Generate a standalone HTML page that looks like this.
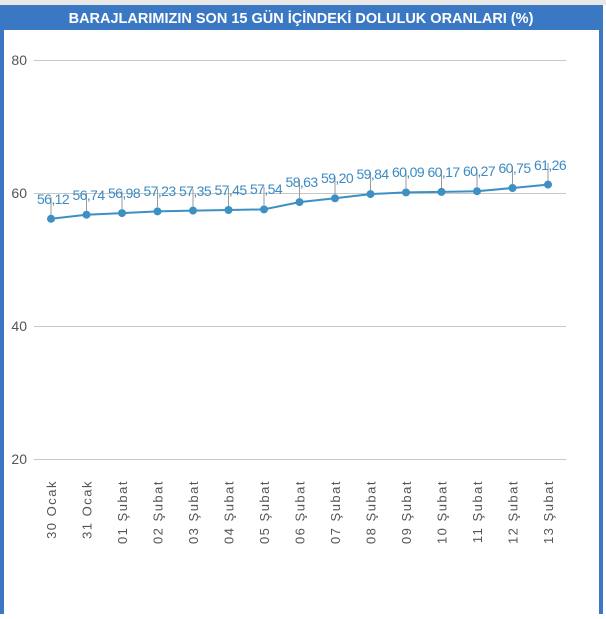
<!DOCTYPE html>
<html><head><meta charset="utf-8"><style>
body{margin:0;background:#fff;width:606px;height:614px;overflow:hidden;font-family:"Liberation Sans",sans-serif}
</style></head><body>
<svg width="606" height="614" xmlns="http://www.w3.org/2000/svg" font-family="Liberation Sans, sans-serif">
<rect x="0" y="0" width="606" height="5" fill="#e8e8e8"/>
<rect x="0" y="5" width="603" height="609" fill="#3b78c3"/>
<rect x="4" y="30" width="595" height="584" fill="#fff"/>
<text x="301" y="23" text-anchor="middle" fill="#fff" font-weight="bold" font-size="14.5">BARAJLARIMIZIN SON 15 GÜN İÇİNDEKİ DOLULUK ORANLARI (%)</text>
<g stroke="#c8c8c8" stroke-width="1">
<line x1="34" y1="60.5" x2="566" y2="60.5"/><line x1="34" y1="193.5" x2="566" y2="193.5"/><line x1="34" y1="326.5" x2="566" y2="326.5"/><line x1="34" y1="459.5" x2="566" y2="459.5"/>
</g>
<g fill="#555" font-size="14" text-anchor="end">
<text x="27" y="65">80</text><text x="27" y="198">60</text><text x="27" y="331">40</text><text x="27" y="464">20</text>
</g>
<g stroke="#999" stroke-width="1">
<line x1="51" y1="215" x2="51" y2="197"/>
<line x1="86.5" y1="211" x2="86.5" y2="193"/>
<line x1="122" y1="209" x2="122" y2="191"/>
<line x1="157.5" y1="207" x2="157.5" y2="189"/>
<line x1="193" y1="207" x2="193" y2="189"/>
<line x1="228.5" y1="206" x2="228.5" y2="188"/>
<line x1="264" y1="205" x2="264" y2="187"/>
<line x1="299.5" y1="198" x2="299.5" y2="180"/>
<line x1="335" y1="194" x2="335" y2="176"/>
<line x1="370.5" y1="190" x2="370.5" y2="172"/>
<line x1="406" y1="188" x2="406" y2="170"/>
<line x1="441.5" y1="188" x2="441.5" y2="170"/>
<line x1="477" y1="187" x2="477" y2="169"/>
<line x1="512.5" y1="184" x2="512.5" y2="166"/>
<line x1="548" y1="181" x2="548" y2="163"/>
</g>
<polyline points="51,218.8 86.5,214.7 122,213.1 157.5,211.4 193,210.6 228.5,210 264,209.4 299.5,202.1 335,198.3 370.5,194.1 406,192.4 441.5,191.9 477,191.2 512.5,188 548,184.6" fill="none" stroke="#3d8fc4" stroke-width="2"/>
<g fill="#3d8fc4">
<circle cx="51" cy="218.8" r="4"/><circle cx="86.5" cy="214.7" r="4"/><circle cx="122" cy="213.1" r="4"/><circle cx="157.5" cy="211.4" r="4"/><circle cx="193" cy="210.6" r="4"/><circle cx="228.5" cy="210" r="4"/><circle cx="264" cy="209.4" r="4"/><circle cx="299.5" cy="202.1" r="4"/><circle cx="335" cy="198.3" r="4"/><circle cx="370.5" cy="194.1" r="4"/><circle cx="406" cy="192.4" r="4"/><circle cx="441.5" cy="191.9" r="4"/><circle cx="477" cy="191.2" r="4"/><circle cx="512.5" cy="188" r="4"/><circle cx="548" cy="184.6" r="4"/>
</g>
<g fill="#3d8bc2" font-size="14" letter-spacing="-0.6" text-anchor="middle">
<text x="53" y="204">56,12</text>
<text x="88.5" y="200">56,74</text>
<text x="124" y="198">56,98</text>
<text x="159.5" y="196">57,23</text>
<text x="195" y="196">57,35</text>
<text x="230.5" y="195">57,45</text>
<text x="266" y="194">57,54</text>
<text x="301.5" y="187">58,63</text>
<text x="337" y="183">59,20</text>
<text x="372.5" y="179">59,84</text>
<text x="408" y="177">60,09</text>
<text x="443.5" y="177">60,17</text>
<text x="479" y="176">60,27</text>
<text x="514.5" y="173">60,75</text>
<text x="550" y="170">61,26</text>
</g>
<g fill="#555" font-size="13" letter-spacing="1.5" text-anchor="end">
<text transform="translate(56,480) rotate(-90)">30 Ocak</text>
<text transform="translate(91.5,480) rotate(-90)">31 Ocak</text>
<text transform="translate(127,480) rotate(-90)">01 Şubat</text>
<text transform="translate(162.5,480) rotate(-90)">02 Şubat</text>
<text transform="translate(198,480) rotate(-90)">03 Şubat</text>
<text transform="translate(233.5,480) rotate(-90)">04 Şubat</text>
<text transform="translate(269,480) rotate(-90)">05 Şubat</text>
<text transform="translate(304.5,480) rotate(-90)">06 Şubat</text>
<text transform="translate(340,480) rotate(-90)">07 Şubat</text>
<text transform="translate(375.5,480) rotate(-90)">08 Şubat</text>
<text transform="translate(411,480) rotate(-90)">09 Şubat</text>
<text transform="translate(446.5,480) rotate(-90)">10 Şubat</text>
<text transform="translate(482,480) rotate(-90)">11 Şubat</text>
<text transform="translate(517.5,480) rotate(-90)">12 Şubat</text>
<text transform="translate(553,480) rotate(-90)">13 Şubat</text>
</g>
</svg>
</body></html>
